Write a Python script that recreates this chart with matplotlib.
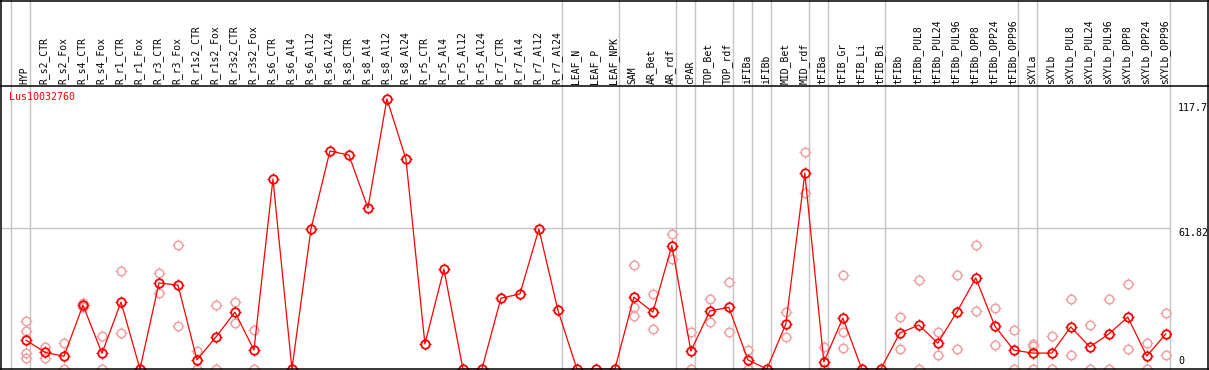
import matplotlib
matplotlib.use('Agg')
import matplotlib.pyplot as plt
from matplotlib.path import Path
from matplotlib.lines import Line2D
import matplotlib.transforms as mtransforms

# ---------------- data ----------------
gene = "Lus10032760"

labels = ["HYP", "R_s2_CTR", "R_s2_Fox", "R_s4_CTR", "R_s4_Fox", "R_r1_CTR", "R_r1_Fox",
          "R_r3_CTR", "R_r3_Fox", "R_r1s2_CTR", "R_r1s2_Fox", "R_r3s2_CTR", "R_r3s2_Fox",
          "R_s6_CTR", "R_s6_Al4", "R_s6_Al12", "R_s6_Al24", "R_s8_CTR", "R_s8_Al4",
          "R_s8_Al12", "R_s8_Al24", "R_r5_CTR", "R_r5_Al4", "R_r5_Al12", "R_r5_Al24",
          "R_r7_CTR", "R_r7_Al4", "R_r7_Al12", "R_r7_Al24", "LEAF_N", "LEAF_P", "LEAF_NPK",
          "SAM", "AR_Bet", "AR_rdf", "cPAR", "TOP_Bet", "TOP_rdf", "iFIBa", "iFIBb",
          "MID_Bet", "MID_rdf", "tFIBa", "tFIB_Gr", "tFIB_Li", "tFIB_Bi", "tFIBb",
          "tFIBb_PUL8", "tFIBb_PUL24", "tFIBb_PUL96", "tFIBb_OPP8", "tFIBb_OPP24",
          "tFIBb_OPP96", "sXYLa", "sXYLb", "sXYLb_PUL8", "sXYLb_PUL24", "sXYLb_PUL96",
          "sXYLb_OPP8", "sXYLb_OPP24", "sXYLb_OPP96"]

means = [12.7, 7.3, 5.6, 28.1, 6.9, 29.4, 0.0,
         37.8, 36.9, 4.0, 14.1, 25.0, 8.3,
         83.5, 0.0, 61.5, 95.8, 94.0, 70.7,
         118.7, 92.3, 11.0, 43.9, 0.0, 0.0,
         31.1, 33.0, 61.5, 25.9, 0.0, 0.0, 0.0,
         31.6, 25.0, 54.2, 7.9, 25.5, 27.1, 4.0, 0.0,
         19.8, 86.0, 3.1, 22.4, 0.0, 0.0, 15.8,
         19.3, 11.4, 25.0, 40.0, 18.9,
         8.3, 7.0, 7.0, 18.5, 9.7, 15.4,
         22.8, 5.7, 15.4]

replicates = [[21.1, 16.6, 6.9, 4.7], [9.8, 4.7], [11.3, 0.0], [29.1, 27.4], [14.4, 0.0],
              [43.1, 15.7], [], [42.0, 33.3], [54.5, 18.9], [7.9, 0.0], [28.1, 0.0],
              [29.4, 20.2], [17.1, 0.0],
              [], [], [], [], [], [], [], [], [], [], [], [], [], [], [], [], [], [], [],
              [45.7, 27.1, 23.2], [33.0, 17.6], [59.3, 48.3], [16.3, 0.0], [30.8, 20.7],
              [38.2, 16.3], [8.3, 0.0], [], [25.0, 14.1], [95.3, 77.2], [9.8, 0.0],
              [41.3, 16.3, 9.2], [], [], [22.8, 8.8], [39.1, 0.0], [16.3, 6.2],
              [41.3, 8.8], [54.5, 25.5], [26.8, 10.5], [17.1, 0.0], [11.0, 10.2, 0.0],
              [14.5, 0.0], [30.8, 6.2], [19.3, 0.0], [30.8, 0.0], [37.3, 8.8],
              [11.4, 0.0], [24.6, 6.2]]

group_sizes = [1, 28, 3, 3, 1, 2, 1, 1, 2, 1, 3, 7, 1, 7]
ytick_values = [117.7, 61.82, 0]
ytick_labels = ["117.7", "61.82", "0"]

# ---------------- layout ----------------
W, H = 1209, 370
fig = plt.figure(figsize=(W / 100, H / 100), dpi=100)
fig.patch.set_facecolor('white')


def fx(px):
    return px / W


def fy(py):
    return 1 - py / H


GREY = '#c4c4c4'
RED = '#ff0000'
PINK = '#f0a0a0'
MONO = 'DejaVu Sans Mono'

ax = fig.add_axes([fx(1), fy(369), fx(1170.7) - fx(1), fy(85.7) - fy(369)])
ax.set_xlim(-1.316, 60.26)
ax.set_ylim(0, 124.5)
ax.axis('off')

blend = mtransforms.blended_transform_factory(ax.transData, fig.transFigure)

# gridline
ax.axhline(61.82, color=GREY, lw=1.0, zorder=1)

# group separators
pos = -1
bounds = [pos + 0.226]
for g in group_sizes:
    pos += g
    bounds.append(pos + 0.226)
for b in bounds:
    ax.plot([b, b], [fy(369), 1.0], transform=blend, color=GREY, lw=1.0,
            clip_on=False, zorder=1)

# spike marker (four short ticks outside a circle)
r0, r1 = 1.0, 1.3
spike = Path([(0, r0), (0, r1), (0, -r0), (0, -r1),
              (r0, 0), (r1, 0), (-r0, 0), (-r1, 0)],
             [Path.MOVETO, Path.LINETO] * 4)
CIRC_PX = 8.5
SPIKE_MS = CIRC_PX * r1 / r0 * 0.72
CIRC_MS = CIRC_PX * 0.72

# replicates
rx, ry = [], []
for i, reps in enumerate(replicates):
    for r in reps:
        rx.append(i)
        ry.append(r)
ax.plot(rx, ry, linestyle='none', marker='o', markersize=CIRC_MS,
        markerfacecolor='none', markeredgecolor=PINK, markeredgewidth=1.1, zorder=2)
ax.plot(rx, ry, linestyle='none', marker=spike, markersize=SPIKE_MS,
        markeredgecolor=PINK, markeredgewidth=0.8, zorder=2)

# mean line
xs = list(range(len(labels)))
ax.plot(xs, means, color=RED, lw=0.9, zorder=3)
ax.plot(xs, means, linestyle='none', marker='o', markersize=CIRC_MS,
        markerfacecolor='none', markeredgecolor=RED, markeredgewidth=1.3, zorder=4)
ax.plot(xs, means, linestyle='none', marker=spike, markersize=SPIKE_MS,
        markeredgecolor=RED, markeredgewidth=0.9, zorder=4)

# header labels
for i, lab in enumerate(labels):
    ax.text(i - 0.06, fy(83.5), lab, rotation=90, ha='center', va='bottom',
            transform=blend, fontsize=7.0, family=MONO, color='black')

# gene label
fig.text(fx(9.3), fy(97.5), gene, ha='left', va='center', fontsize=7.2,
         family=MONO, color=RED)

# y-axis value labels (right)
offsets = [(-2, 'top'), (0, 'top'), (3, 'bottom')]
for v, t, (dy, va) in zip(ytick_values, ytick_labels, offsets):
    ax.annotate(t, xy=(1, v), xycoords=('axes fraction', 'data'),
                xytext=(7.3 * 0.72, dy * 0.72), textcoords='offset points',
                ha='left', va=va, fontsize=7.2, family=MONO, color='black',
                annotation_clip=False)

# frame lines
def fline(x0, y0, x1, y1):
    fig.add_artist(Line2D([fx(x0), fx(x1)], [fy(y0), fy(y1)], color='black',
                          lw=1.1, transform=fig.transFigure))

fline(0, 0.5, W, 0.5)        # top
fline(0, 85.7, W, 85.7)      # header separator
fline(0, 369, W, 369)        # bottom
fline(1.2, 0, 1.2, 369)      # left
fline(1208, 0, 1208, 369)    # right

fig.savefig('out.png', dpi=100, facecolor='white')
